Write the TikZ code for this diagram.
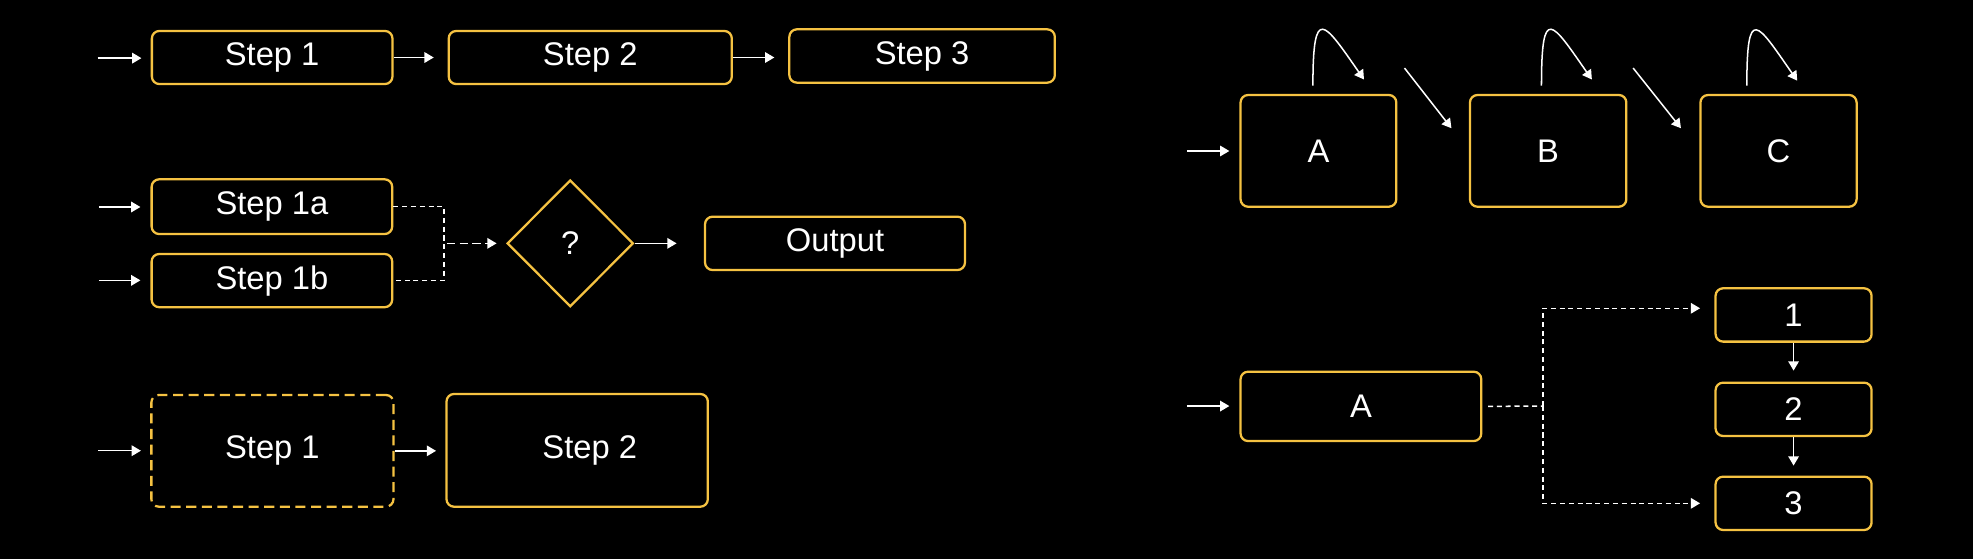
\documentclass[tikz,border=0pt]{standalone}
\usepackage{fontspec}
\setmainfont{Liberation Sans}
\usetikzlibrary{arrows.meta,shapes.geometric,calc}
\definecolor{ybord}{RGB}{245,194,66}
\begin{document}
\begin{tikzpicture}[x=0.5pt,y=-0.5pt,
  box/.style={draw=ybord, line width=0.9pt, rounded corners=3pt, fill=black, text=white,
    inner sep=0pt, font=\fontsize{13}{15}\selectfont},
  sz/.style 2 args={minimum width=#1, minimum height=#2},
  tipw/.style={-{Triangle[length=3.7pt,width=4.2pt]}},
  arr/.style={draw=white, line width=0.6pt, tipw},
  dline/.style={draw=white, line width=0.6pt, dash pattern=on 2pt off 1.5pt},
  darr/.style={draw=white, line width=0.6pt, dash pattern=on 3.2pt off 1.9pt, tipw},
  dboxline/.style={dash pattern=on 4pt off 2.2pt}
]
\fill[black] (0,0) rectangle (1568,444);
\useasboundingbox (0,0) rectangle (1568,444);

% ---------- Row 1
\node[box, sz={95.6pt}{21.1pt}] (s1) at (216.3,45.7) {Step 1};
\node[box, sz={112.5pt}{21.1pt}] (s2) at (469.1,45.7) {Step 2};
\node[box, sz={105.5pt}{21.2pt}] (s3) at (732.8,44.5) {Step 3};
\coordinate (i1) at (77.5,46.2);
\draw[arr, shorten >=3.7pt] (i1) -- (i1 -| s1.west);
\draw[arr, shorten >=5.5pt] (s1.east) -- (s2.west);
\draw[arr, shorten >=5.5pt] (s2.east) -- (s2.east -| s3.west);

% ---------- Row 2
\node[box, sz={95.6pt}{21.75pt}] (s1a) at (216.1,164.25) {Step 1a};
\node[box, sz={95.6pt}{21.15pt}] (s1b) at (216.1,223) {Step 1b};
\node[box, shape=diamond, sharp corners, sz={50.15pt}{50.35pt}] (q) at (453.2,193.4) {?};
\node[box, sz={103.3pt}{21.2pt}] (out) at (663.6,193.4) {Output};
\coordinate (i2a) at (78.5,164.5);
\coordinate (i2b) at (78.5,222.8);
\coordinate (j) at (352.7,193.4);
\draw[arr, shorten >=4pt] (i2a) -- (i2a -| s1a.west);
\draw[arr, shorten >=4pt] (i2b) -- (i2b -| s1b.west);
\draw[dline] (s1a.east) -| (j) |- (s1b.east);
\draw[darr, shorten >=3.75pt] ([xshift=1.2pt]j) -- (q.west);
\draw[arr, shorten >=10.85pt] (q.east) -- (out.west);

% ---------- Row 3
\node[box, dboxline, sz={96.2pt}{44.4pt}] (d1) at (216.5,358.3) {Step 1};
\node[box, sz={103.85pt}{44.8pt}] (t2) at (458.7,357.9) {\makebox[0pt]{\hspace*{10pt}Step 2}};
\coordinate (i3) at (78.2,358.2);
\draw[arr, shorten >=3.7pt] (i3) -- (i3 -| d1.west);
\draw[arr, shorten >=3.7pt] (d1.east) -- (d1.east -| t2.west);

% ---------- Right top
\node[box, sz={61.9pt}{44.4pt}] (A) at (1047.8,119.9) {A};
\node[box, sz={62.15pt}{44.4pt}] (B) at (1230.35,119.9) {B};
\node[box, sz={62.05pt}{44.4pt}] (C) at (1413.45,119.9) {C};
\coordinate (i4) at (943.3,120);
\draw[arr, shorten >=4pt] (i4) -- (i4 -| A.west);
\draw[arr] ($(A.north)+(-4.4,-6.6)$) .. controls +(0,-65) and +(-32,-46) .. ($(A.north)+(36.2,-11.4)$);
\draw[arr] ($(B.north)+(-5.3,-6.6)$) .. controls +(0,-65) and +(-32,-46) .. ($(B.north)+(34.75,-11.4)$);
\draw[arr] ($(C.north)+(-25.2,-6.6)$) .. controls +(0,-65) and +(-32,-46) .. ($(C.north)+(14.85,-10.5)$);
\draw[arr] ($(A.north east)+(5.6,-20.5)$) -- ($(B.north west)+(-13.8,27.3)$);
\draw[arr] ($(B.north east)+(4.5,-20.5)$) -- ($(C.north west)+(-14.6,27.3)$);

% ---------- Right bottom
\node[box, sz={95.65pt}{27.55pt}] (A2) at (1081.55,322.95) {A};
\node[box, sz={62pt}{21.2pt}] (n1) at (1425.4,250.3) {1};
\node[box, sz={62pt}{21.2pt}] (n2) at (1425.4,325.3) {2};
\node[box, sz={62pt}{21.2pt}] (n3) at (1425.4,400) {3};
\coordinate (i5) at (943.3,322.7);
\coordinate (br) at (1226.1,322.7);
\draw[arr, shorten >=4pt] (i5) -- (i5 -| A2.west);
\draw[arr, shorten >=4.35pt] (n1.south) -- (n2.north);
\draw[arr, shorten >=3.95pt] (n2.south) -- (n3.north);
\draw[dline] ([xshift=2.25pt]A2.east) -- (br);
\draw[dline, tipw, shorten >=5.7pt] (br) |- ($(n1.west)+(0,-5.3)$);
\draw[dline, tipw, shorten >=5.7pt] (br) |- (n3.west);
\end{tikzpicture}
\end{document}
